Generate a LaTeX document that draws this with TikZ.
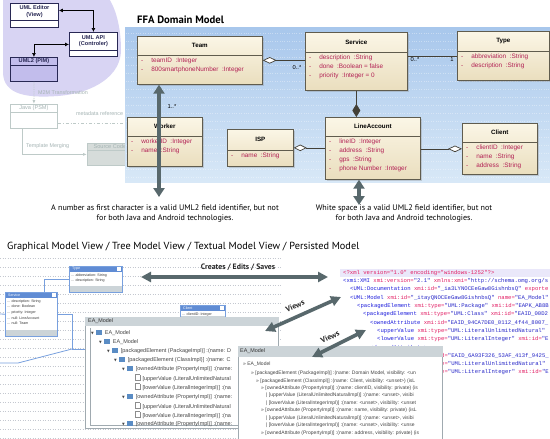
\documentclass[tikz,border=0pt]{standalone}
\usepackage{fontspec}
\setmainfont{PT Sans}
\newfontfamily\umlfont{Liberation Sans}
\newfontfamily\xmlfont{Liberation Mono}
\newfontfamily\symfont{DejaVu Sans}
\usetikzlibrary{arrows.meta,shadows}

\definecolor{blobviolet}{RGB}{216,212,243}
\definecolor{mvcedge}{RGB}{40,40,84}
\definecolor{pimfill}{RGB}{194,189,236}
\definecolor{fadeline}{RGB}{190,202,200}
\definecolor{fadetext}{RGB}{165,180,180}
\definecolor{fadefill}{RGB}{214,220,218}
\definecolor{paneltop}{RGB}{168,199,236}
\definecolor{panelbot}{RGB}{216,232,247}
\definecolor{umltop}{RGB}{251,246,230}
\definecolor{umlbot}{RGB}{234,222,190}
\definecolor{umledge}{RGB}{96,92,78}
\definecolor{attrred}{RGB}{178,32,84}
\definecolor{arrowgray}{RGB}{88,104,108}
\definecolor{eablue}{RGB}{120,160,222}
\definecolor{eahead}{RGB}{96,140,212}
\definecolor{winbar}{RGB}{204,212,216}
\definecolor{winedge}{RGB}{160,170,176}
\definecolor{treetext}{RGB}{70,70,70}
\definecolor{foldericon}{RGB}{90,140,196}
\definecolor{xmltag}{RGB}{30,30,220}
\definecolor{xmlattr}{RGB}{226,30,100}
\definecolor{xmlval}{RGB}{40,40,200}
\definecolor{xmlhead}{RGB}{234,232,250}
\definecolor{griddot}{RGB}{196,200,208}

% attribute line of a class
\newcommand{\fld}[1]{-\hspace{8pt}#1}
% xml colouring
\newcommand{\xt}[1]{\textcolor{xmltag}{#1}}
\newcommand{\xa}[1]{\textcolor{xmlattr}{#1}}
\newcommand{\xv}[1]{\textcolor{xmlval}{#1}}
% tree icons
\newcommand{\tdown}{{\symfont\fontsize{3.5}{4}\selectfont\char"25BC}}
\newcommand{\folder}{\textcolor{foldericon}{\rule{6pt}{4.5pt}}}
\newcommand{\docpage}{{\color{black!45}\fboxsep=0pt\fboxrule=0.4pt\fbox{\color{white}\rule{4pt}{5.5pt}}}}

\tikzset{
  mvcbox/.style={draw=mvcedge, line width=0.9pt, fill=white, anchor=north west, inner sep=0pt},
  mvctitle/.style={font=\umlfont\bfseries\fontsize{5.6}{6.6}\selectfont, text=mvcedge, align=center, inner sep=0pt},
  mvcarrow/.style={draw=black, line width=0.7pt, {Latex[length=4pt,width=4pt]}-{Latex[length=4pt,width=4pt]}},
  fadebox/.style={draw=fadeline, line width=0.8pt, anchor=north west, inner sep=0pt},
  fadetitle/.style={font=\umlfont\fontsize{5.6}{6.5}\selectfont, text=fadetext, inner sep=0pt},
  fadelabel/.style={font=\umlfont\fontsize{5.4}{6}\selectfont, text=fadetext, anchor=west, inner sep=0pt},
  domainpanel/.style={top color=paneltop, bottom color=panelbot, anchor=north west, inner sep=0pt},
  umlclass/.style={draw=umledge, line width=0.7pt, top color=umltop, bottom color=umlbot, anchor=north west, inner sep=0pt,
    drop shadow={shadow xshift=1.5pt, shadow yshift=-1.5pt, opacity=0.3}},
  umltitle/.style={font=\umlfont\bfseries\fontsize{6.2}{7}\selectfont, inner sep=0pt},
  umlattr/.style={font=\umlfont\fontsize{6.4}{9}\selectfont, text=attrred, align=left, anchor=north west, inner sep=0pt},
  mult/.style={font=\umlfont\fontsize{5.8}{6}\selectfont, inner sep=0pt},
  assoc/.style={draw=umledge!70!black, line width=0.7pt},
  bigarrow/.style={draw=arrowgray, line width=4.4pt, {Triangle[length=9pt,width=11pt]}-{Triangle[length=9pt,width=11pt]}},
  viewarrow/.style={draw=arrowgray, line width=3.6pt, {Triangle[length=10pt,width=10pt]}-{Triangle[length=10pt,width=10pt]}},
  caption/.style={font=\fontsize{8.1}{10}\selectfont, align=center, inner sep=0pt},
  viewlabel/.style={font=\bfseries\fontsize{7.8}{9}\selectfont, text=black!85, inner sep=0pt},
  eabox/.style={fill=white, anchor=north west, inner sep=0pt},
  eatitle/.style={font=\umlfont\fontsize{3.6}{4}\selectfont, text=white, anchor=west, inner sep=0pt},
  eaattr/.style={font=\umlfont\fontsize{3.6}{5.6}\selectfont, text=black!80, align=left, anchor=north west, inner sep=0pt},
  ealine/.style={draw=eablue, line width=0.8pt},
  window/.style={draw=winedge, line width=0.6pt, fill=white, anchor=north west, inner sep=0pt},
  wintitle/.style={font=\umlfont\fontsize{5.4}{6}\selectfont, text=black!80, anchor=west, inner sep=0pt},
  treerow/.style={font=\umlfont\fontsize{5.5}{6}\selectfont, text=treetext, anchor=west, inner sep=0pt},
  rawrow/.style={font=\umlfont\fontsize{5}{6}\selectfont, text=treetext, anchor=west, inner sep=0pt},
  xmlrow/.style={font=\xmlfont\fontsize{5.6}{6}\selectfont, anchor=west, inner sep=0pt},
}

\newcommand{\umlclass}[8]{%
  \node[umlclass, minimum width=#4, minimum height=#5] (#1) at (#2,#3) {};
  \draw[umledge, line width=0.7pt] ([yshift=-#6pt]#1.north west) -- ([yshift=-#6pt]#1.north east);
  \node[umltitle] (#1-title) at ([yshift=-#6pt/2]#1.north) {#7};
  \node[umlattr] (#1-attr) at ([xshift=4pt,yshift=-#6pt-2.5pt]#1.north west) {#8};
}

\newcommand{\eaclass}[7]{%
  \node[eabox, minimum width=#4, minimum height=#5] (#1) at (#2,#3) {};
  \fill[eahead] (#1.north west) rectangle ([yshift=-6pt]#1.north east);
  \fill[white] ([xshift=-5pt,yshift=-1.2pt]#1.north east) rectangle ([xshift=-1.5pt,yshift=-4.8pt]#1.north east);
  \fill[winbar] ([yshift=6pt]#1.south west) rectangle (#1.south east);
  \draw[eablue, line width=0.6pt] (#1.north west) rectangle (#1.south east);
  \node[eatitle] (#1-title) at ([xshift=3pt,yshift=-3pt]#1.north west) {#6};
  \node[eaattr] (#1-rows) at ([xshift=2pt,yshift=-7.5pt]#1.north west) {#7};
}

\begin{document}
\begin{tikzpicture}[x=1pt,y=-1pt]
  \useasboundingbox (0,0) rectangle (550,439);
  \fill[white] (0,0) rectangle (550,439);

  %% MVC blob
  \fill[blobviolet] (3,-5) -- (3,72) .. controls (3,96) and (30,98) .. (58,96)
    .. controls (95,93) and (121,75) .. (121,50) .. controls (121,22) and (113,2) .. (106,-5) -- cycle;
  \node[mvcbox, minimum width=48, minimum height=24] (editor) at (10,3) {};
  \draw[mvcedge, line width=0.9pt] ([yshift=-17pt]editor.north west) -- ([yshift=-17pt]editor.north east);
  \node[mvctitle] (editor-title) at ([yshift=-8.5pt]editor.north) {UML Editor\\(View)};
  \node[mvcbox, minimum width=48, minimum height=24] (api) at (69,32) {};
  \draw[mvcedge, line width=0.9pt] ([yshift=-18pt]api.north west) -- ([yshift=-18pt]api.north east);
  \node[mvctitle] (api-title) at ([yshift=-9pt]api.north) {UML API\\(Controler)};
  \node[mvcbox, fill=pimfill, minimum width=47, minimum height=24] (pim) at (10,57) {};
  \draw[mvcedge, line width=0.9pt] ([yshift=-8pt]pim.north west) -- ([yshift=-8pt]pim.north east);
  \node[mvctitle] (pim-title) at ([yshift=-4pt]pim.north) {UML2 (PIM)};
  \draw[mvcarrow] ([yshift=5pt]editor.east) -| (api.north);
  \draw[mvcarrow] (api.west) -| (pim.north);

  %% faded PSM part
  \node[fadebox, minimum width=47, minimum height=24] (java) at (10,104) {};
  \draw[fadeline, line width=0.8pt] ([yshift=-8pt]java.north west) -- ([yshift=-8pt]java.north east);
  \node[fadetitle] (java-title) at ([yshift=-4pt]java.north) {Java (PSM)};
  \node[fadebox, fill=fadefill, minimum width=45, minimum height=22] (srccode) at (87,143) {};
  \draw[fadeline, line width=0.8pt] ([yshift=-7pt]srccode.north west) -- ([yshift=-7pt]srccode.north east);
  \node[fadetitle] (src-title) at ([yshift=-3.5pt]srccode.north) {Source Code};
  \draw[fadeline, line width=0.8pt, densely dotted, -{Latex[length=4pt]}] (pim.south) -- (java.north);
  \node[fadelabel] (m2m) at (38,93) {M2M Transformation};
  \coordinate (metaend) at (130,123);
  \draw[fadeline, line width=0.8pt, dash dot] (java.east |- metaend) -- (metaend);
  \node[fadelabel] (metalabel) at (76,114) {metadata reference};
  \draw[fadeline, line width=0.8pt, -{Latex[length=4pt]}] ([xshift=-11.5pt]java.south) |- (srccode.west);
  \node[fadelabel] (tmpl) at (26,146) {Template Merging};

  %% FFA domain model
  \node[anchor=west, font=\bfseries\fontsize{10.7}{12}\selectfont, inner sep=0pt] (ffatitle) at (137,20) {FFA Domain Model};
  \node[domainpanel, minimum width=425, minimum height=155] (domain) at (125,27) {};
  \foreach \gy in {33,41,...,180}
    \draw[white, opacity=0.35, line width=0.4pt, dotted] (126,\gy) -- (549,\gy);

  \umlclass{team}{137}{36}{125}{48}{19}{Team}{\fld{teamID~~:Integer}\\\fld{800smartphoneNumber~~:Integer}}
  \umlclass{service}{305}{32}{102}{58}{20}{Service}{\fld{description~~:String}\\\fld{done~~:Boolean = false}\\\fld{priority~~:Integer = 0}}
  \umlclass{type}{457}{31}{92}{49}{20}{Type}{\fld{abbreviation~~:String}\\\fld{description~~:String}}
  \umlclass{worker}{127}{117}{75}{49}{19}{Worker}{\fld{workerID~~:Integer}\\\fld{name~~:String}}
  \umlclass{isp}{227}{129}{66}{37}{21}{ISP}{\fld{name~~:String}}
  \umlclass{lineacc}{325}{117}{95}{62}{19}{LineAccount}{\fld{lineID~~:Integer}\\\fld{address~~:String}\\\fld{gps~~:String}\\\fld{phone Number~~:Integer}}
  \umlclass{client}{462}{123}{75}{51}{19}{Client}{\fld{clientID~~:Integer}\\\fld{name~~:String}\\\fld{address~~:String}}

  \draw[assoc, {Diamond[fill=white,length=14pt,width=6.5pt]}-] (team.east) -- (team.east -| service.west);
  \draw[assoc] (type.west -| service.east) -- (type.west);
  \draw[assoc, -{Diamond[length=13pt,width=8pt]}] (service.south) -- (service.south |- lineacc.north);
  \draw[assoc, {Diamond[fill=white,length=13pt,width=6.5pt]}-] (isp.east) -- (isp.east -| lineacc.west);
  \draw[assoc, -{Diamond[fill=white,length=14pt,width=6.5pt]}] (client.west -| lineacc.east) -- (client.west);
  \node[mult] (m-team) at (297,68) {0..*};
  \node[mult] (m-service) at (415,60) {0..*};
  \node[mult] (m-type) at (452,60) {1};
  \node[mult] (m-worker) at (172,107) {1..*};

  %% notes
  \coordinate (teamnote) at (159,197);
  \draw[bigarrow] (team.south -| teamnote) -- (teamnote);
  \coordinate (lanote) at (359,205);
  \draw[bigarrow] (lineacc.south -| lanote) -- (lanote);
  \node[caption] (numnote) at (165,213) {A number as first character is a valid UML2 field identifier, but not\\for both Java and Android technologies.};
  \node[caption] (spacenote) at (404,213) {White space is a valid UML2 field identifier, but not\\for both Java and Android technologies.};

  %% views
  \node[anchor=west, font=\fontsize{10.3}{12}\selectfont, inner sep=0pt] (viewtitle) at (7,247) {Graphical Model View / Tree Model View / Textual Model View / Persisted Model};
  \foreach \gy in {258,267,...,439}
    \draw[griddot, line width=0.5pt, dotted] (0,\gy) -- (282,\gy);

  % graphical view
  \eaclass{gtype}{69}{266}{53}{26}{Type}{... abbreviation: String\\... description: String}
  \eaclass{gservice}{5}{292}{52}{44}{Service}{... description: String\\... done: Boolean\\... priority: Integer\\... null: LineAccount\\... null: Team}
  \eaclass{gclient}{180}{305}{45}{17}{Client}{... clientID: Integer}
  \coordinate (gbend) at (72,349);
  \coordinate (gleft) at (0,314);
  \coordinate (glow) at (0,363);
  \draw[ealine] (gtype.west) -| ([xshift=13pt]gservice.north);
  \draw[ealine] (gleft) -- (gservice.west);

  % xml view
  \node[anchor=north west, fill=white, minimum width=212, minimum height=114, inner sep=0pt] (xmlview) at (340,266) {};
  \fill[xmlhead] (340,268.5) rectangle (550,277);
  \begin{scope}
    \clip (xmlview.north west) rectangle (xmlview.south east);
    \node[xmlrow] (x1) at (343,272.7) {\xa{<?xml version="1.0" encoding="windows-1252"?>}};
    \node[xmlrow] (x2) at (343,281) {\xt{<xmi:XMI} \xa{xmi:version=}\xv{"2.1"} \xa{xmlns:xmi=}\xv{"http://schema.omg.org/s}};
    \node[xmlrow] (x3) at (350,289.3) {\xt{<UML:Documentation} \xa{xmi:id=}\xv{"\_ia3LYNOCEeGaw8GishnbsQ"} \xa{exporte}};
    \node[xmlrow] (x4) at (350,297.6) {\xt{<UML:Model} \xa{xmi:id=}\xv{"\_itayQNOCEeGaw8GishnbsQ"} \xa{name=}\xv{"EA\_Model"}};
    \node[xmlrow] (x5) at (357,305.9) {\xt{<packagedElement} \xa{xmi:type=}\xv{"UML:Package"} \xa{xmi:id=}\xv{"EAPK\_AB8B}};
    \node[xmlrow] (x6) at (363,314.2) {\xt{<packagedElement} \xa{xmi:type=}\xv{"UML:Class"} \xa{xmi:id=}\xv{"EAID\_00D2}};
    \node[xmlrow] (x7) at (370,322.5) {\xt{<ownedAttribute} \xa{xmi:id=}\xv{"EAID\_94CA7DE0\_0112\_4f44\_8007\_}};
    \node[xmlrow] (x8) at (377,330.8) {\xt{<upperValue} \xa{xmi:type=}\xv{"UML:LiteralUnlimitedNatural"}};
    \node[xmlrow] (x9) at (377,339.1) {\xt{<lowerValue} \xa{xmi:type=}\xv{"UML:LiteralInteger"} \xa{xmi:id=}\xv{"E}};
    \node[xmlrow] (x10) at (370,347.4) {\xt{</ownedAttribute>}};
    \node[xmlrow] (x11) at (441,355.7) {\xa{d=}\xv{"EAID\_6A93F326\_53AF\_413f\_9425\_}};
    \node[xmlrow] (x12) at (441,364) {\xa{e=}\xv{"UML:LiteralUnlimitedNatural"}};
    \node[xmlrow] (x13) at (441,372.3) {\xa{e=}\xv{"UML:LiteralInteger"} \xa{xmi:id=}\xv{"E}};
  \end{scope}

  % tree view
  \node[window, minimum width=193, minimum height=111] (win1) at (85,317) {};
  \fill[winbar] (win1.north west) rectangle ([yshift=-9pt]win1.north east);
  \draw[winedge, line width=0.4pt] ([xshift=5pt,yshift=-11pt]win1.north west) |- ([yshift=3pt]win1.south east);
  \node[wintitle] (win1-title) at ([xshift=3pt,yshift=-4.5pt]win1.north west) {EA\_Model};
  \draw[ealine] (gservice.east) -| (gbend) -- (gbend -| win1.west);
  \draw[ealine] (glow) -- ++(18,0) -- (gbend);
  \foreach \rx/\ry/\rowtext [count=\i] in {
      91/333/{\tdown\hspace{2.5pt}\folder\hspace{2.5pt}EA\_Model},
      99/342/{\tdown\hspace{2.5pt}\folder\hspace{2.5pt}EA\_Model},
      107/351/{\tdown\hspace{2.5pt}\folder\hspace{2.5pt}[packagedElement (PackageImpl)] :(name: D},
      114/360/{\tdown\hspace{2.5pt}\folder\hspace{2.5pt}[packagedElement (ClassImpl)] :(name: C},
      122/369/{\tdown\hspace{2.5pt}\folder\hspace{2.5pt}[ownedAttribute (PropertyImpl)] :(name:},
      135/378/{\docpage\hspace{2.5pt}[upperValue (LiteralUnlimitedNatural},
      135/387/{\docpage\hspace{2.5pt}[lowerValue (LiteralIntegerImpl)] :(na},
      122/397/{\tdown\hspace{2.5pt}\folder\hspace{2.5pt}[ownedAttribute (PropertyImpl)] :(name:},
      135/406/{\docpage\hspace{2.5pt}[upperValue (LiteralUnlimitedNatural},
      135/415/{\docpage\hspace{2.5pt}[lowerValue (LiteralIntegerImpl)] :(na},
      122/424/{\tdown\hspace{2.5pt}\folder\hspace{2.5pt}[ownedAttribute (PropertyImpl)] :(name:}}
    \node[treerow] (tree-\i) at (\rx,\ry) {\rowtext};

  % raw tree view
  \node[window, minimum width=204, minimum height=100] (win2) at (238,346) {};
  \fill[winbar] (win2.north west) rectangle ([yshift=-11pt]win2.north east);
  \node[wintitle] (win2-title) at ([xshift=2pt,yshift=-5.5pt]win2.north west) {EA\_Model};
  \begin{scope}
    \clip (win2.north west) rectangle (win2.south east);
    \foreach \rx/\ry/\rowtext [count=\i] in {
        243/364/{» EA\_Model},
        251/373/{» [packagedElement (PackageImpl)] :(name: Domain Model, visibility: <un},
        256/381/{» [packagedElement (ClassImpl)] :(name: Client, visibility: <unset>) (isL},
        261/388/{» [ownedAttribute (PropertyImpl)] :(name: clientID, visibility: private) (is},
        266/395/{| [upperValue (LiteralUnlimitedNaturalImpl)] :(name: <unset>, visibi},
        266/403/{| [lowerValue (LiteralIntegerImpl)] :(name: <unset>, visibility: <unset},
        261/410/{» [ownedAttribute (PropertyImpl)] :(name: name, visibility: private) (isL},
        266/418/{| [upperValue (LiteralUnlimitedNaturalImpl)] :(name: <unset>, visibi},
        266/425/{| [lowerValue (LiteralIntegerImpl)] :(name: <unset>, visibility: <unse},
        261/433/{» [ownedAttribute (PropertyImpl)] :(name: address, visibility: private) (is}}
      \node[rawrow] (raw-\i) at (\rx,\ry) {\rowtext};
  \end{scope}

  % arrows between the views
  \coordinate (graphend) at (141,277);
  \coordinate (xmlend) at (328,277);
  \draw[viewarrow] (graphend) -- (xmlend);
  \node[viewlabel] (creates) at (238,267) {Creates / Edits / Saves};
  \coordinate (tree1end) at (265,331);
  \coordinate (xml1end) at (341,297);
  \draw[viewarrow] (tree1end) -- (xml1end);
  \node[viewlabel, rotate=23] (views1) at (295,306) {Views};
  \coordinate (tree2end) at (312,357);
  \coordinate (xml2end) at (366,330);
  \draw[viewarrow] (tree2end) -- (xml2end);
  \node[viewlabel, rotate=27] (views2) at (330,337) {Views};
\end{tikzpicture}
\end{document}
